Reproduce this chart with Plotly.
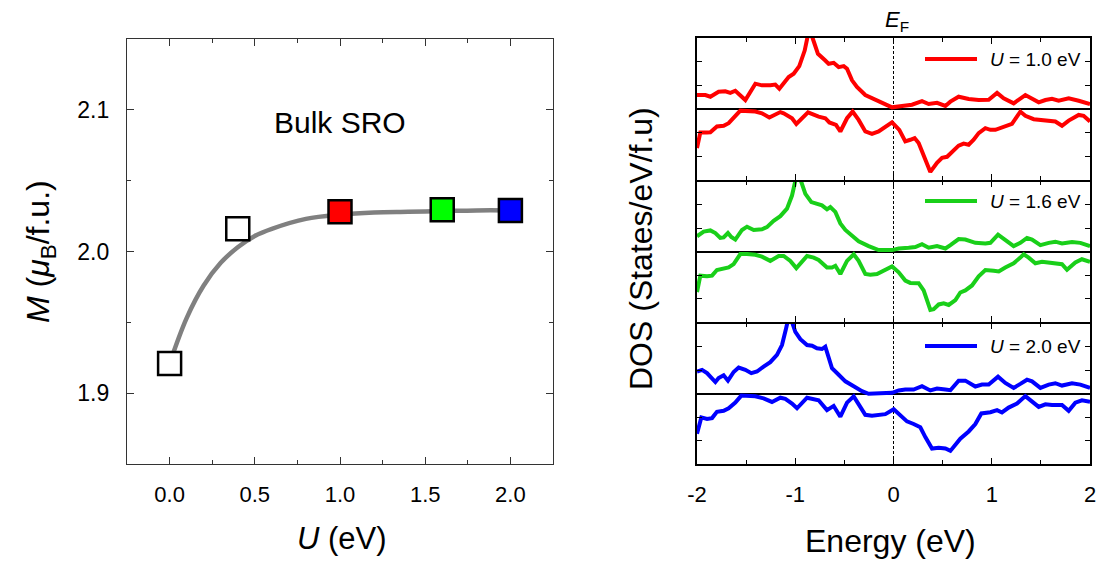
import plotly.graph_objects as go

# ---------------- Left panel data ----------------
U_vals = [0.0, 0.4, 1.0, 1.6, 2.0]
M_vals = [1.921, 2.016, 2.028, 2.0295, 2.029]
M_fill = ["white", "white", "#ff0000", "#00ff00", "#0000ff"]

U_fit = [0.0, 0.1, 0.2, 0.3, 0.4, 0.5, 0.6, 0.8, 1.0, 1.2, 1.4, 1.6, 1.8, 2.0]
M_fit = [1.921, 1.953, 1.976, 1.992, 2.003, 2.011, 2.016, 2.023, 2.026, 2.0275, 2.028, 2.0285, 2.029, 2.029]

U_ticks = [0.0, 0.5, 1.0, 1.5, 2.0]
U_ticktext = ["0.0", "0.5", "1.0", "1.5", "2.0"]
M_ticks = [1.9, 2.0, 2.1]
M_ticktext = ["1.9", "2.0", "2.1"]

# ---------------- Right panel data (DOS) ----------------
E_ticks = [-2, -1, 0, 1, 2]
E_ticktext = ["-2", "-1", "0", "1", "2"]

E_red_up = [-2.00, -1.915, -1.864, -1.780, -1.712, -1.661, -1.610, -1.576, -1.508, -1.406, -1.339, -1.254, -1.203, -1.162,
            -1.067, -1.016, -0.959, -0.904, -0.857, -0.809, -0.769, -0.694, -0.660, -0.609, -0.558, -0.507, -0.473, -0.422,
            -0.372, -0.287, -0.185, -0.083, -0.015, 0.087, 0.188, 0.290, 0.358, 0.443, 0.528, 0.579, 0.663, 0.765, 0.867,
            0.969, 1.054, 1.121, 1.223, 1.342, 1.410, 1.478, 1.546, 1.613, 1.681, 1.783, 1.885, 2.00]
D_red_up = [0.59, 0.59, 0.52, 0.73, 0.75, 0.68, 0.77, 0.63, 0.38, 1.07, 1.00, 1.00, 1.03, 0.86,
            1.35, 1.49, 1.81, 2.47, 3.40, 2.82, 2.33, 2.05, 1.91, 1.95, 1.77, 1.81, 1.70, 1.21,
            0.93, 0.59, 0.38, 0.17, 0.07, 0.13, 0.18, 0.33, 0.21, 0.26, 0.13, 0.31, 0.52, 0.42, 0.38,
            0.39, 0.68, 0.45, 0.24, 0.59, 0.45, 0.28, 0.38, 0.43, 0.35, 0.45, 0.35, 0.21]

E_red_dn = [-2.00, -1.966, -1.898, -1.864, -1.797, -1.729, -1.678, -1.576, -1.559, -1.406, -1.339, -1.264, -1.152, -1.118,
            -1.033, -0.989, -0.870, -0.762, -0.694, -0.653, -0.585, -0.541, -0.473, -0.416, -0.355, -0.287, -0.219, -0.151,
            -0.083, -0.015, 0.059, 0.120, 0.171, 0.215, 0.256, 0.324, 0.375, 0.443, 0.494, 0.545, 0.596, 0.663, 0.714,
            0.765, 0.816, 0.867, 0.935, 0.986, 1.037, 1.088, 1.155, 1.206, 1.291, 1.342, 1.427, 1.512, 1.596, 1.647,
            1.715, 1.783, 1.885, 1.935, 2.00]
D_red_dn = [-1.65, -0.99, -0.99, -0.98, -0.74, -0.71, -0.60, -0.10, -0.07, -0.11, -0.18, -0.36, -0.13, -0.18,
            -0.39, -0.63, -0.14, -0.32, -0.39, -0.57, -0.67, -0.95, -0.39, -0.11, -0.46, -0.95, -1.05, -0.95,
            -0.74, -0.56, -0.88, -1.37, -1.30, -1.23, -1.44, -2.13, -2.66, -2.27, -2.06, -2.02, -1.83, -1.55, -1.46,
            -1.51, -1.30, -1.02, -0.81, -0.88, -0.88, -0.81, -0.71, -0.63, -0.11, -0.29, -0.43, -0.46, -0.49, -0.53,
            -0.71, -0.49, -0.25, -0.29, -0.53]

E_grn_up = [-2.00, -1.932, -1.864, -1.813, -1.763, -1.729, -1.685, -1.651, -1.610, -1.542, -1.491, -1.423, -1.339, -1.288,
            -1.220, -1.152, -1.084, -1.033, -0.999, -0.972, -0.931, -0.897, -0.836, -0.779, -0.728, -0.677, -0.643, -0.592,
            -0.541, -0.490, -0.422, -0.355, -0.253, -0.151, -0.015, 0.053, 0.154, 0.222, 0.290, 0.358, 0.443, 0.528,
            0.579, 0.663, 0.731, 0.833, 0.935, 0.986, 1.064, 1.138, 1.223, 1.291, 1.359, 1.410, 1.495, 1.580, 1.647,
            1.715, 1.817, 1.902, 2.00]
D_grn_up = [0.66, 0.86, 0.91, 0.80, 0.59, 0.61, 0.80, 0.63, 0.52, 0.93, 1.07, 0.93, 0.96, 1.05,
            1.32, 1.52, 1.84, 2.40, 3.03, 3.40, 2.89, 2.47, 2.12, 2.05, 1.98, 1.81, 1.91, 1.70,
            1.21, 0.93, 0.66, 0.45, 0.24, 0.07, 0.07, 0.14, 0.17, 0.20, 0.32, 0.17, 0.24, 0.14,
            0.28, 0.54, 0.52, 0.38, 0.35, 0.38, 0.73, 0.52, 0.24, 0.38, 0.59, 0.52, 0.28, 0.38, 0.43,
            0.35, 0.42, 0.38, 0.24]

E_grn_dn = [-2.00, -1.966, -1.898, -1.847, -1.797, -1.729, -1.678, -1.627, -1.559, -1.491, -1.406, -1.339, -1.254, -1.169,
            -1.118, -1.050, -0.989, -0.880, -0.812, -0.762, -0.677, -0.626, -0.592, -0.541, -0.473, -0.405, -0.355, -0.287,
            -0.236, -0.168, -0.083, -0.015, 0.053, 0.120, 0.171, 0.256, 0.307, 0.375, 0.409, 0.460, 0.511, 0.562, 0.630,
            0.680, 0.731, 0.799, 0.867, 0.935, 1.020, 1.071, 1.138, 1.223, 1.291, 1.325, 1.376, 1.444, 1.512, 1.580,
            1.647, 1.715, 1.766, 1.851, 1.918, 2.00]
D_grn_dn = [-1.72, -1.02, -1.05, -1.02, -0.78, -0.70, -0.67, -0.53, -0.10, -0.10, -0.13, -0.21, -0.39, -0.18,
            -0.18, -0.39, -0.70, -0.18, -0.25, -0.35, -0.67, -0.67, -0.60, -0.95, -0.39, -0.11, -0.39, -0.95,
            -0.98, -0.95, -0.78, -0.63, -0.88, -1.23, -1.33, -1.34, -1.65, -2.48, -2.45, -2.25, -2.20, -2.27, -2.06,
            -1.74, -1.65, -1.44, -1.05, -0.78, -0.81, -0.84, -0.67, -0.49, -0.25, -0.11, -0.25, -0.49, -0.43, -0.46,
            -0.49, -0.53, -0.77, -0.46, -0.32, -0.43]

E_blu_up = [-2.00, -1.949, -1.898, -1.813, -1.780, -1.729, -1.685, -1.627, -1.576, -1.508, -1.447, -1.389, -1.322, -1.254,
            -1.186, -1.135, -1.094, -1.060, -0.999, -0.948, -0.880, -0.829, -0.779, -0.728, -0.694, -0.626, -0.558, -0.490,
            -0.405, -0.321, -0.253, -0.151, -0.015, 0.053, 0.120, 0.205, 0.290, 0.375, 0.443, 0.528, 0.579, 0.663, 0.731,
            0.833, 0.901, 0.969, 1.064, 1.138, 1.223, 1.291, 1.359, 1.410, 1.495, 1.580, 1.647, 1.715, 1.817, 1.902, 2.00]
D_blu_up = [0.95, 1.02, 0.88, 0.50, 0.67, 0.79, 0.56, 0.93, 1.12, 1.02, 0.88, 0.95, 1.16, 1.35,
            1.66, 2.08, 2.78, 3.40, 2.64, 2.33, 2.08, 2.05, 1.94, 1.91, 2.01, 1.09, 0.81, 0.53,
            0.32, 0.11, 0.00, 0.00, 0.04, 0.14, 0.18, 0.18, 0.32, 0.14, 0.22, 0.18, 0.15, 0.56, 0.56,
            0.31, 0.39, 0.39, 0.73, 0.46, 0.25, 0.42, 0.60, 0.53, 0.25, 0.39, 0.45, 0.35, 0.45, 0.39, 0.25]

E_blu_dn = [-2.00, -1.956, -1.898, -1.847, -1.797, -1.729, -1.678, -1.610, -1.549, -1.474, -1.406, -1.322, -1.237, -1.152,
            -1.101, -1.033, -0.982, -0.880, -0.812, -0.762, -0.677, -0.609, -0.541, -0.473, -0.405, -0.355, -0.287, -0.219,
            -0.134, -0.083, 0.002, 0.053, 0.137, 0.205, 0.273, 0.324, 0.392, 0.460, 0.528, 0.579, 0.630, 0.680, 0.765,
            0.833, 0.894, 0.986, 1.054, 1.104, 1.172, 1.257, 1.342, 1.410, 1.478, 1.546, 1.613, 1.715, 1.783, 1.851,
            1.918, 2.00]
D_blu_dn = [-1.71, -1.01, -1.08, -1.04, -0.77, -0.73, -0.62, -0.38, -0.08, -0.10, -0.11, -0.20, -0.35, -0.17,
            -0.22, -0.42, -0.62, -0.17, -0.24, -0.28, -0.70, -0.52, -0.98, -0.38, -0.11, -0.42, -0.90, -0.94,
            -0.90, -0.87, -0.66, -0.84, -1.18, -1.29, -1.43, -1.85, -2.34, -2.31, -2.34, -2.44, -2.20, -1.92, -1.61,
            -1.29, -0.84, -0.79, -0.70, -0.80, -0.59, -0.42, -0.10, -0.31, -0.56, -0.45, -0.48, -0.48, -0.73, -0.38,
            -0.28, -0.34]

panel_labels = ["<i>U</i> = 1.0 eV", "<i>U</i> = 1.6 eV", "<i>U</i> = 2.0 eV"]
panel_colors = ["#ff0000", "#19cf19", "#0000ff"]

FONT = "Arial, 'Liberation Sans', Helvetica, sans-serif"
W, H = 1103, 569


def px(xp):
    return xp / W


def py(yp):
    return (H - yp) / H


fig = go.Figure()

# left panel
fig.add_trace(go.Scatter(x=U_fit, y=M_fit, mode="lines", line=dict(color="#808080", width=4.5, shape="spline"),
                         xaxis="x", yaxis="y", showlegend=False, hoverinfo="skip"))
fig.add_trace(go.Scatter(x=U_vals, y=M_vals, mode="markers",
                         marker=dict(symbol="square", size=23, color=M_fill, line=dict(color="black", width=2.5)),
                         xaxis="x", yaxis="y", showlegend=False))

series = [(E_red_up, D_red_up, E_red_dn, D_red_dn),
          (E_grn_up, D_grn_up, E_grn_dn, D_grn_dn),
          (E_blu_up, D_blu_up, E_blu_dn, D_blu_dn)]
for i, (eu, du, ed, dd) in enumerate(series):
    xa, ya = f"x{i + 2}", f"y{i + 2}"
    for ex, dy in ((eu, du), (ed, dd)):
        fig.add_trace(go.Scatter(x=ex, y=dy, mode="lines", line=dict(color=panel_colors[i], width=4),
                                 xaxis=xa, yaxis=ya, showlegend=False))

# panel domains (pixels from top)
left_dom_x = [px(127), px(553)]
left_dom_y = [py(464), py(39)]
right_dom_x = [px(697), px(1090)]
# the top of each lower panel is nudged so that shared borders coincide
panel_px = [(38, 180), (181.5, 322), (323.5, 464)]

tickfont = dict(family=FONT, size=22, color="black")

layout = dict(
    width=W, height=H, autosize=False,
    margin=dict(l=0, r=0, t=0, b=0, autoexpand=False),
    paper_bgcolor="white", plot_bgcolor="white",
    showlegend=False,
    xaxis=dict(domain=left_dom_x, anchor="y", range=[-0.25, 2.25], automargin=False,
               tickmode="array", tickvals=U_ticks, ticktext=U_ticktext,
               ticks="inside", ticklen=7, tickwidth=1, tickcolor="#333",
               minor=dict(dtick=0.25, tick0=0, ticks="inside", ticklen=4, tickcolor="#333"),
               mirror="allticks", showline=True, linecolor="#333", linewidth=1.2,
               showgrid=False, zeroline=False, tickfont=tickfont, ticklabelstandoff=10),
    yaxis=dict(domain=left_dom_y, anchor="x", range=[1.85, 2.15], automargin=False,
               tickmode="array", tickvals=M_ticks, ticktext=M_ticktext,
               ticks="inside", ticklen=7, tickwidth=1, tickcolor="#333",
               minor=dict(dtick=0.05, tick0=1.85, ticks="inside", ticklen=4, tickcolor="#333"),
               mirror="allticks", showline=True, linecolor="#333", linewidth=1.2,
               showgrid=False, zeroline=False, tickfont=dict(family=FONT, size=23, color="black"),
               ticklabelstandoff=12),
)

for i, (top, bot) in enumerate(panel_px):
    n = i + 2
    layout[f"xaxis{n}"] = dict(domain=right_dom_x, anchor=f"y{n}", range=[-2, 2], automargin=False,
                               tickmode="array", tickvals=E_ticks, ticktext=E_ticktext,
                               ticks="inside", ticklen=6, tickwidth=1, tickcolor="black",
                               minor=dict(dtick=0.5, tick0=0, ticks="inside", ticklen=4, tickcolor="black"),
                               mirror="allticks", showline=True, linecolor="black", linewidth=1.5,
                               showgrid=False, zeroline=False, showticklabels=(i == 2),
                               tickfont=tickfont, ticklabelstandoff=10)
    layout[f"yaxis{n}"] = dict(domain=[py(bot), py(top)], anchor=f"x{n}", range=[-3, 3], automargin=False,
                               dtick=1, tick0=0, ticks="inside", ticklen=5, tickwidth=1, tickcolor="black",
                               mirror="allticks", showline=True, linecolor="black", linewidth=1.5,
                               showgrid=False, showticklabels=False,
                               zeroline=True, zerolinecolor="black", zerolinewidth=1.5)

fig.update_layout(**layout)

shapes = []
annotations = []
# Fermi level dashed line
shapes.append(dict(type="line", xref="x4", yref="paper", x0=0, x1=0, y0=py(464), y1=py(38),
                   line=dict(color="black", width=1, dash="3px,2px"), layer="below"))
# panel legends
legend_y = [59, 201, 346]
for i in range(3):
    shapes.append(dict(type="line", xref="paper", yref="paper", x0=px(925), x1=px(977),
                       y0=py(legend_y[i]), y1=py(legend_y[i]), line=dict(color=panel_colors[i], width=4)))
    annotations.append(dict(text=panel_labels[i], xref="paper", yref="paper", x=px(988), y=py(legend_y[i]),
                            xanchor="left", yanchor="middle", showarrow=False,
                            font=dict(family=FONT, size=19, color="black")))

annotations += [
    dict(text="Bulk SRO", xref="paper", yref="paper", x=px(340), y=py(122), xanchor="center", yanchor="middle",
         showarrow=False, font=dict(family=FONT, size=30, color="black")),
    dict(text="<i>M</i> (<i>μ</i><sub>B</sub>/f.u.)", xref="paper", yref="paper", x=px(40), y=py(252),
         xanchor="center", yanchor="middle", textangle=-90, showarrow=False,
         font=dict(family=FONT, size=32, color="black")),
    dict(text="DOS (States/eV/f.u)", xref="paper", yref="paper", x=px(641), y=py(249),
         xanchor="center", yanchor="middle", textangle=-90, showarrow=False,
         font=dict(family=FONT, size=32, color="black")),
    dict(text="<i>U</i> (eV)", xref="paper", yref="paper", x=px(342), y=py(538),
         xanchor="center", yanchor="middle", showarrow=False, font=dict(family=FONT, size=31, color="black")),
    dict(text="Energy (eV)", xref="paper", yref="paper", x=px(890), y=py(541),
         xanchor="center", yanchor="middle", showarrow=False, font=dict(family=FONT, size=32, color="black")),
    dict(text="<i>E</i><sub>F</sub>", xref="paper", yref="paper", x=px(897), y=py(21),
         xanchor="center", yanchor="middle", showarrow=False, font=dict(family=FONT, size=22, color="black")),
]

fig.update_layout(shapes=shapes, annotations=annotations)
fig.write_html("out.html")
